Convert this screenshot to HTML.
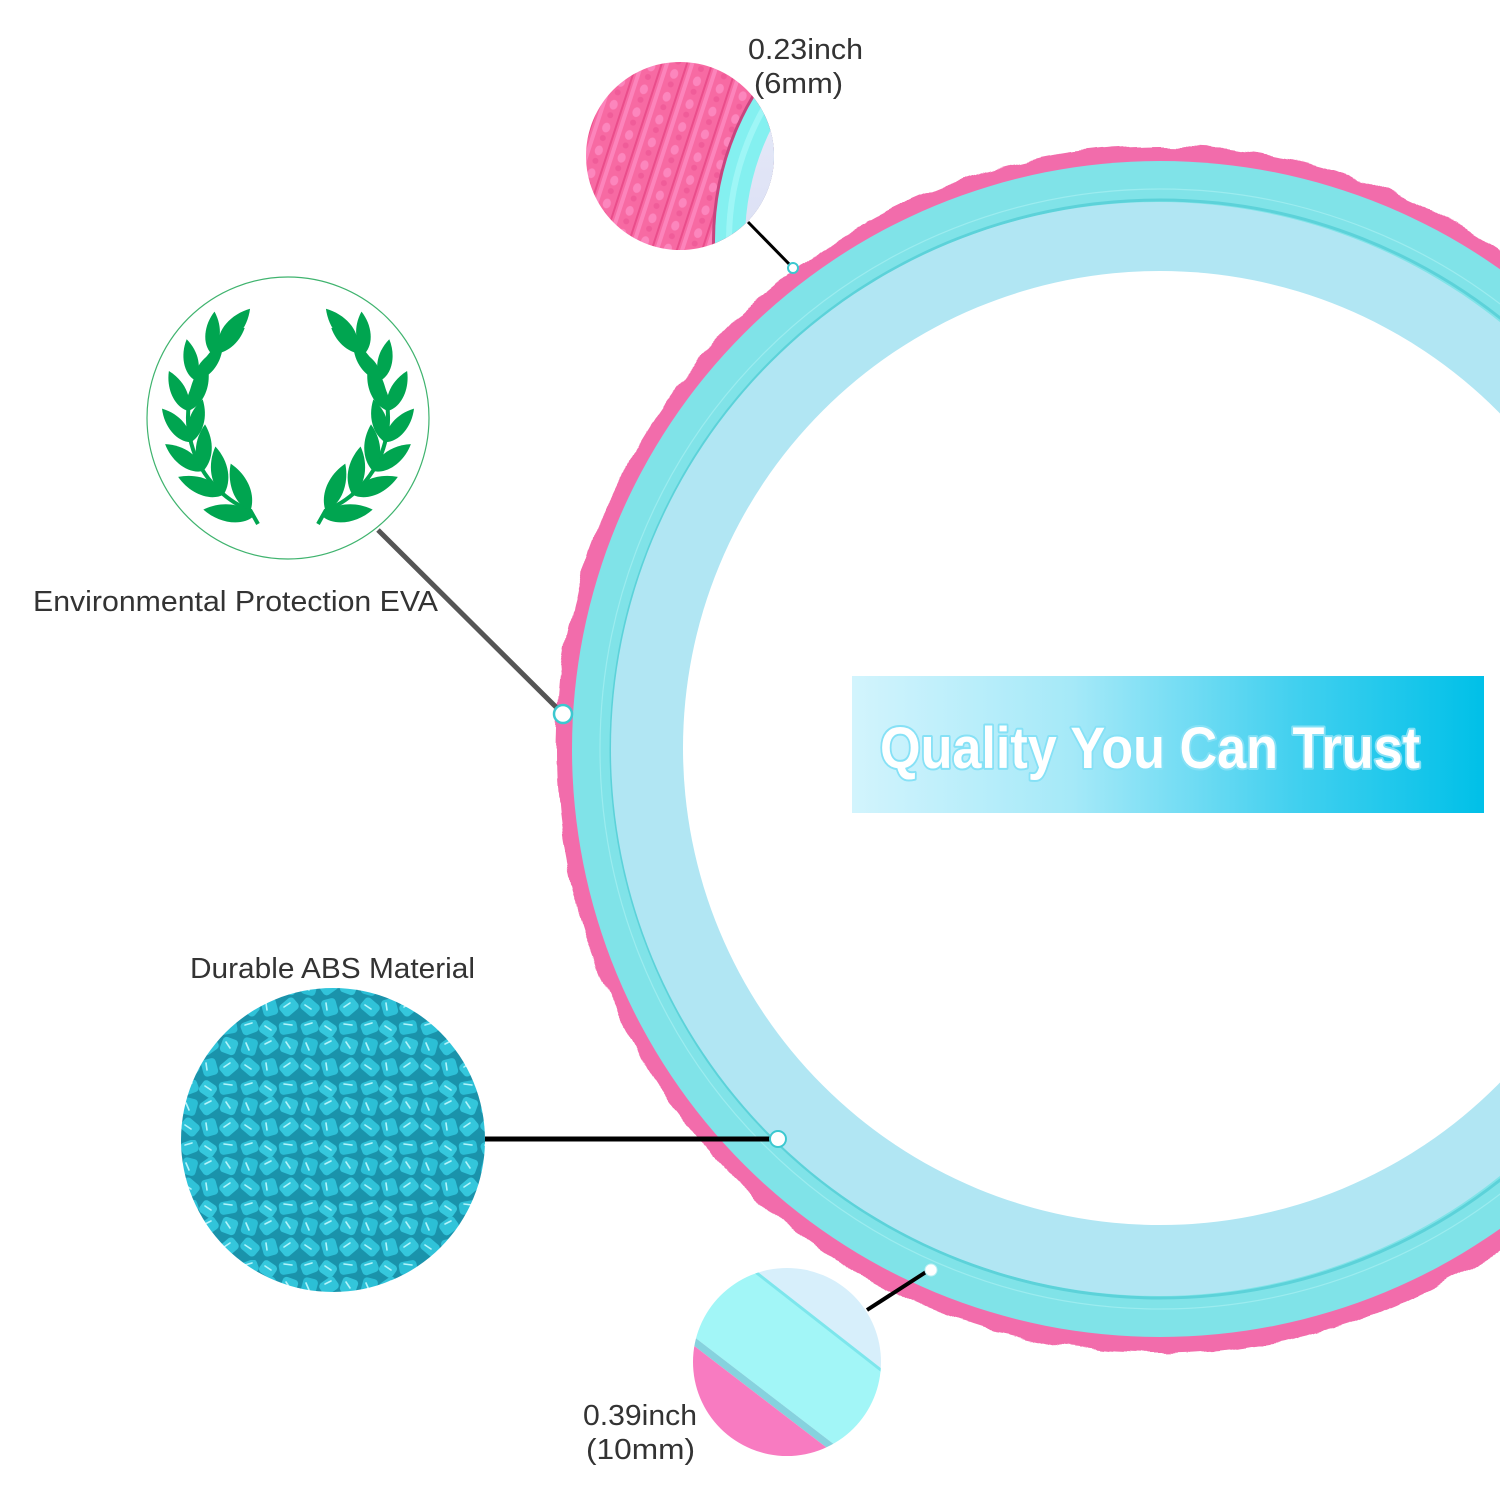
<!DOCTYPE html>
<html>
<head>
<meta charset="utf-8">
<style>
  html,body{margin:0;padding:0;background:#fff;}
  svg{display:block;}
  .lbl{font-family:"Liberation Sans",Arial,sans-serif;font-size:29px;fill:#333;}
</style>
</head>
<body>
<svg width="1500" height="1500" viewBox="0 0 1500 1500" xmlns="http://www.w3.org/2000/svg">
  <defs>
    <filter id="bumpy" x="-5%" y="-5%" width="110%" height="110%">
      <feTurbulence type="fractalNoise" baseFrequency="0.03" numOctaves="2" seed="3" result="n"/>
      <feDisplacementMap in="SourceGraphic" in2="n" scale="11" xChannelSelector="R" yChannelSelector="G"/>
    </filter>
    <linearGradient id="banner" x1="0" y1="0" x2="1" y2="0">
      <stop offset="0" stop-color="#d2f4fd"/>
      <stop offset="0.35" stop-color="#a5e9f8"/>
      <stop offset="0.7" stop-color="#42d0ef"/>
      <stop offset="1" stop-color="#00c0e8"/>
    </linearGradient>
    <linearGradient id="lav" x1="0" y1="0" x2="0" y2="1">
      <stop offset="0" stop-color="#eef0fb"/>
      <stop offset="1" stop-color="#c9d0ee"/>
    </linearGradient>
    <pattern id="pinktex" width="24" height="24" patternUnits="userSpaceOnUse" patternTransform="rotate(18)">
      <rect width="24" height="24" fill="#f76aa3"/>
      <rect x="0" y="0" width="2" height="24" fill="#ea4d8b"/>
      <rect x="4" y="0" width="4" height="24" fill="#fc84bb"/>
      <ellipse cx="16" cy="6" rx="4" ry="5" fill="#fc86bd"/>
      <ellipse cx="16" cy="17" rx="3" ry="3" fill="#f05c99"/>
    </pattern>
    <pattern id="pel" width="60" height="60" patternUnits="userSpaceOnUse">
      <rect width="60" height="60" fill="#1a93ab"/>
      <rect x="1" y="1" width="17" height="13" rx="4" fill="#2fc3d9" transform="rotate(-20 9 7)"/>
      <rect x="20" y="2" width="16" height="14" rx="4" fill="#35c8dd" transform="rotate(35 28 9)"/>
      <rect x="39" y="1" width="18" height="13" rx="4" fill="#2bbfd6" transform="rotate(-10 48 7)"/>
      <rect x="2" y="18" width="15" height="17" rx="4" fill="#2bbfd6" transform="rotate(15 9 26)"/>
      <rect x="20" y="19" width="18" height="14" rx="4" fill="#31c4da" transform="rotate(-35 29 26)"/>
      <rect x="41" y="18" width="16" height="16" rx="4" fill="#33c6db" transform="rotate(20 49 26)"/>
      <rect x="1" y="40" width="18" height="14" rx="4" fill="#30c3d9" transform="rotate(40 10 47)"/>
      <rect x="22" y="39" width="15" height="17" rx="4" fill="#2ec1d8" transform="rotate(-15 29 47)"/>
      <rect x="40" y="40" width="18" height="14" rx="4" fill="#34c7dc" transform="rotate(-40 49 47)"/>
      <path d="M5 5 L12 3 M25 6 L31 10 M44 4 L52 5 M6 23 L9 30 M25 24 L31 21 M46 22 L50 28 M5 45 L11 49 M26 43 L27 50 M44 47 L50 43" stroke="#b3f3fa" stroke-width="1.6" stroke-linecap="round"/>
    </pattern>
    <path id="leaf" d="M0,0 C8,-12 28,-14 44,-6 C30,6 12,8 0,0Z" fill="#00a550"/>
    <clipPath id="c1"><circle cx="680" cy="156" r="94"/></clipPath>
    <clipPath id="c2"><circle cx="787" cy="1362" r="94"/></clipPath>
  </defs>

  <!-- big ring -->
  <circle cx="1160" cy="750" r="604" fill="#f26cab" filter="url(#bumpy)"/>
  <circle cx="1160" cy="749" r="588" fill="#80e3e8"/>
  <circle cx="1160" cy="749" r="549" fill="none" stroke="#5cd2d9" stroke-width="3"/>
  <circle cx="1160" cy="749" r="560" fill="none" stroke="#a7f0f2" stroke-width="1.2" opacity="0.7"/>
  <circle cx="1158" cy="749" r="547" fill="#b1e6f3"/>
  <circle cx="1160" cy="748" r="477" fill="#ffffff"/>

  <!-- banner -->
  <rect x="852" y="676" width="632" height="137" fill="url(#banner)"/>
  <text x="880" y="768" textLength="540" lengthAdjust="spacingAndGlyphs"
        font-family="'Liberation Sans',Arial,sans-serif" font-weight="bold" font-size="58"
        fill="#ffffff" stroke="#86e1f6" stroke-width="4" paint-order="stroke" stroke-linejoin="round">Quality You Can Trust</text>

  <!-- top zoom circle -->
  <g clip-path="url(#c1)">
    <rect x="580" y="55" width="200" height="200" fill="url(#pinktex)"/>
    <circle cx="995" cy="240" r="283" fill="#c9447f"/>
    <circle cx="995" cy="240" r="280" fill="#84f0f0"/>
    <circle cx="995" cy="240" r="266" fill="none" stroke="#a9f8f8" stroke-width="6" opacity="0.7"/>
    <circle cx="995" cy="240" r="250" fill="url(#lav)"/>
  </g>

  <!-- bottom zoom circle -->
  <g clip-path="url(#c2)">
    <polygon points="680,1200 900,1200 900,1384 680,1212" fill="#d7effb"/>
    <polygon points="680,1212 900,1384 900,1495 680,1326" fill="#a2f6f7"/>
    <line x1="680" y1="1213" x2="900" y2="1385" stroke="#7de6ec" stroke-width="3"/>
    <polygon points="680,1326 900,1495 900,1504 680,1335" fill="#86d2de"/>
    <polygon points="680,1335 900,1504 900,1520 680,1520" fill="#f87bc1"/>
  </g>

  <!-- laurel circle -->
  <circle cx="288" cy="418" r="141" fill="#fff" stroke="#3fb36e" stroke-width="1.2"/>
  <g id="branch">
    <path d="M258,524 L250.5,510.7 A100,100 0 0 1 218.5,346.1" fill="none" stroke="#00a550" stroke-width="4"/>
    <use href="#leaf" transform="translate(254,516) rotate(195) scale(1.15)"/>
    <use href="#leaf" transform="translate(250.5,510.7) rotate(255) scale(1.15)"/>
    <use href="#leaf" transform="translate(223.7,494.6) rotate(209) scale(1.1)"/>
    <use href="#leaf" transform="translate(223.7,494.6) rotate(268) scale(1.1)"/>
    <use href="#leaf" transform="translate(203.2,471) rotate(223) scale(1.05)"/>
    <use href="#leaf" transform="translate(203.2,471) rotate(280) scale(1.05)"/>
    <use href="#leaf" transform="translate(191,442.2) rotate(237)"/>
    <use href="#leaf" transform="translate(191,442.2) rotate(293)"/>
    <use href="#leaf" transform="translate(188.2,411) rotate(252)"/>
    <use href="#leaf" transform="translate(188.2,411) rotate(305)"/>
    <use href="#leaf" transform="translate(195.3,380.5) rotate(266) scale(0.95)"/>
    <use href="#leaf" transform="translate(195.3,380.5) rotate(318) scale(0.95)"/>
    <use href="#leaf" transform="translate(211.4,353.7) rotate(282) scale(0.95)"/>
    <use href="#leaf" transform="translate(211.4,353.7) rotate(330) scale(0.95)"/>
    <use href="#leaf" transform="translate(218.5,346.1) rotate(318) scale(1.1)"/>
  </g>
  <use href="#branch" transform="translate(576,0) scale(-1,1)"/>

  <!-- pellet circle -->
  <circle cx="333" cy="1140" r="152" fill="url(#pel)"/>

  <!-- connectors -->
  <line x1="748" y1="222" x2="793" y2="268" stroke="#000" stroke-width="3"/>
  <circle cx="793" cy="268" r="5" fill="#fff" stroke="#3cc8d0" stroke-width="2"/>

  <line x1="378" y1="530" x2="563" y2="714" stroke="#555" stroke-width="5"/>
  <circle cx="563" cy="714" r="9" fill="#fff" stroke="#3cc8d0" stroke-width="2.5"/>

  <line x1="485" y1="1139" x2="775" y2="1139" stroke="#000" stroke-width="5"/>
  <circle cx="778" cy="1139" r="8" fill="#fff" stroke="#3cc8d0" stroke-width="2"/>

  <line x1="867" y1="1310" x2="926" y2="1272" stroke="#000" stroke-width="4"/>
  <circle cx="931" cy="1270" r="6" fill="#fff" stroke="#bdf0f4" stroke-width="1"/>

  <!-- labels -->
  <text class="lbl" x="748" y="59" textLength="115" lengthAdjust="spacingAndGlyphs">0.23inch</text>
  <text class="lbl" x="754" y="93" textLength="89" lengthAdjust="spacingAndGlyphs">(6mm)</text>
  <text class="lbl" x="33" y="611" textLength="405" lengthAdjust="spacingAndGlyphs">Environmental Protection EVA</text>
  <text class="lbl" x="190" y="978" textLength="285" lengthAdjust="spacingAndGlyphs">Durable ABS Material</text>
  <text class="lbl" x="583" y="1425" textLength="114" lengthAdjust="spacingAndGlyphs">0.39inch</text>
  <text class="lbl" x="586" y="1459" textLength="109" lengthAdjust="spacingAndGlyphs">(10mm)</text>
</svg>
</body>
</html>
